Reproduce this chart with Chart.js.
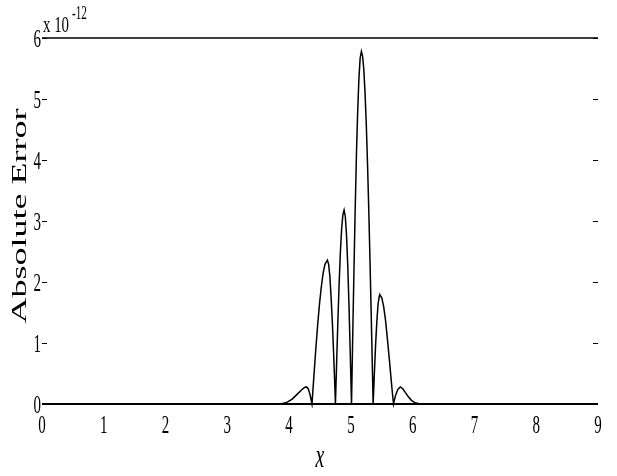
<!DOCTYPE html>
<html>
<head>
<meta charset="utf-8">
<script src="https://cdn.jsdelivr.net/npm/chart.js@4.4.1/dist/chart.umd.min.js"></script>
<style>
    html, body { margin: 0; padding: 0; background: #fff; }
    #wrap { width: 617px; height: 476px; }
</style>
</head>
<body>
<div id="wrap"><canvas id="errChart" width="617" height="476"></canvas></div>
<script>
// x positions and absolute error (in units of 1e-12)
const xValues = [
    0, 3.85, 3.95, 4.05, 4.12, 4.20, 4.25, 4.28, 4.31, 4.34, 4.37,
    4.40, 4.43, 4.46, 4.49, 4.52, 4.55, 4.58, 4.62, 4.64, 4.66, 4.68, 4.70, 4.72, 4.74, 4.75,
    4.77, 4.79, 4.81, 4.83, 4.85, 4.87, 4.89, 4.91, 4.93, 4.95, 4.97, 4.99, 5.01,
    5.03, 5.05, 5.07, 5.09, 5.11, 5.13, 5.15, 5.17, 5.19, 5.21, 5.23, 5.25, 5.27, 5.29, 5.31, 5.33, 5.35, 5.36,
    5.38, 5.40, 5.42, 5.44, 5.46, 5.47, 5.50, 5.53, 5.56, 5.59, 5.62, 5.65, 5.67, 5.69,
    5.72, 5.76, 5.80, 5.84, 5.88, 5.93, 5.98, 6.04, 6.12, 9
];
const errValues = [
    0, 0, 0.02, 0.08, 0.15, 0.23, 0.27, 0.28, 0.25, 0.15, 0,
    0.44, 0.87, 1.27, 1.62, 1.91, 2.14, 2.29, 2.36, 2.29, 2.09, 1.74, 1.34, 0.84, 0.29, 0,
    0.71, 1.38, 1.98, 2.49, 2.87, 3.10, 3.18, 3.07, 2.75, 2.25, 1.59, 0.82, 0,
    1.13, 2.21, 3.21, 4.09, 4.80, 5.34, 5.67, 5.78, 5.70, 5.47, 5.08, 4.56, 3.91, 3.16, 2.32, 1.42, 0.48, 0,
    0.50, 0.97, 1.35, 1.64, 1.77, 1.79, 1.74, 1.60, 1.38, 1.08, 0.76, 0.42, 0.20, 0,
    0.13, 0.24, 0.28, 0.25, 0.19, 0.12, 0.06, 0.02, 0, 0
];
const xTicks = [0, 1, 2, 3, 4, 5, 6, 7, 8, 9];
const yTicks = [0, 1, 2, 3, 4, 5, 6];

const points = xValues.map((x, i) => ({ x: x, y: errValues[i] }));

// draw narrow text, like the squeezed serif labels of the original
function narrowText(ctx, text, x, y, sx, sy) {
    ctx.save();
    ctx.translate(x, y);
    ctx.scale(sx, sy);
    ctx.fillText(text, 0, 0);
    ctx.restore();
}

const framePlugin = {
    id: 'frame',
    afterDraw(chart) {
        const ctx = chart.ctx;
        const area = chart.chartArea;
        const xs = chart.scales.x;
        const ys = chart.scales.y;
        ctx.save();
        ctx.strokeStyle = '#000';
        ctx.fillStyle = '#000';

        // top and bottom lines
        ctx.lineWidth = 1.5;
        ctx.beginPath();
        ctx.moveTo(area.left, ys.getPixelForValue(6));
        ctx.lineTo(area.right, ys.getPixelForValue(6));
        ctx.stroke();
        ctx.lineWidth = 2;
        ctx.beginPath();
        ctx.moveTo(area.left, ys.getPixelForValue(0));
        ctx.lineTo(area.right, ys.getPixelForValue(0));
        ctx.stroke();

        // y ticks, both sides
        ctx.lineWidth = 1;
        yTicks.forEach(v => {
            const py = Math.round(ys.getPixelForValue(v)) + 0.5;
            ctx.beginPath();
            ctx.moveTo(area.left, py);
            ctx.lineTo(area.left + 5, py);
            ctx.moveTo(area.right - 5, py);
            ctx.lineTo(area.right, py);
            ctx.stroke();
        });

        // tick labels
        ctx.font = '25px "Liberation Serif"';
        ctx.textBaseline = 'alphabetic';
        ctx.textAlign = 'right';
        yTicks.forEach(v => {
            narrowText(ctx, String(v), area.left - 1, ys.getPixelForValue(v) + 9, 0.6, 1);
        });
        ctx.textAlign = 'center';
        xTicks.forEach(v => {
            narrowText(ctx, String(v), xs.getPixelForValue(v), area.bottom + 29, 0.6, 1);
        });

        // exponent
        ctx.textAlign = 'left';
        ctx.font = '24px "Liberation Serif"';
        narrowText(ctx, 'x 10', area.left + 1, 32, 0.62, 1);
        ctx.font = '18px "Liberation Serif"';
        narrowText(ctx, '-12', area.left + 30, 19, 0.62, 1);

        // axis titles
        ctx.textAlign = 'center';
        ctx.font = 'italic 33px "Liberation Serif"';
        narrowText(ctx, 'x', xs.getPixelForValue(4.5), 467, 0.6, 1);

        ctx.font = '36px "Liberation Serif"';
        ctx.save();
        ctx.translate(26, 216);
        ctx.rotate(-Math.PI / 2);
        ctx.scale(1, 0.6);
        ctx.fillText('Absolute Error', 0, 0);
        ctx.restore();

        ctx.restore();
    }
};

new Chart(document.getElementById('errChart'), {
    type: 'line',
    data: {
        datasets: [{
            data: points,
            borderColor: '#000',
            borderWidth: 1.5,
            pointRadius: 0,
            tension: 0,
            fill: false,
            clip: 4
        }]
    },
    options: {
        responsive: false,
        animation: false,
        events: [],
        layout: { padding: { left: 42, right: 19, top: 38, bottom: 72 } },
        plugins: { legend: { display: false }, tooltip: { enabled: false } },
        scales: {
            x: { type: 'linear', min: 0, max: 9, display: false },
            y: { type: 'linear', min: 0, max: 6, display: false }
        }
    },
    plugins: [framePlugin]
});
</script>
</body>
</html>
